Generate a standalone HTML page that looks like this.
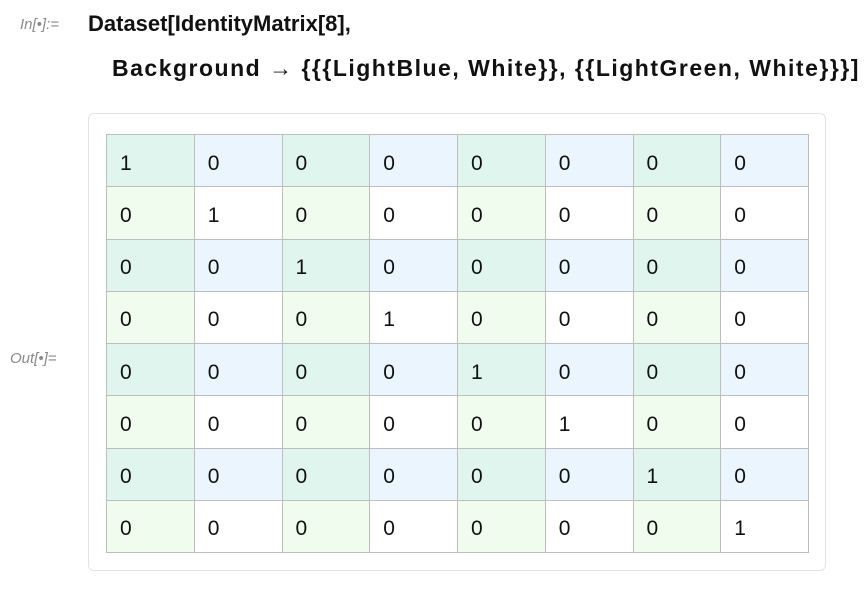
<!DOCTYPE html>
<html><head><meta charset="utf-8"><style>
body{margin:0;width:864px;height:608px;background:#fff;font-family:"Liberation Sans",sans-serif;position:relative;overflow:hidden}
.lbl{position:absolute;font-style:italic;color:#8a8a8a;font-size:15px}
.code{position:absolute;font-weight:bold;font-size:22px;color:#111;white-space:nowrap}
#card{position:absolute;left:88px;top:113px;width:738px;height:458px;border:1.5px solid #e3e3e3;border-radius:6px;box-sizing:border-box}
table{position:absolute;left:106px;top:134px;border-collapse:collapse}
td{width:87.75px;height:52.25px;box-sizing:border-box;border:1.5px solid #bdbdbd;padding:6px 0 0 13px;font-size:21px;color:#111}
</style></head><body>
<div class="lbl" style="left:20px;top:16px">In[•]:=</div>
<div class="code" style="left:88px;top:11px">Dataset[IdentityMatrix[8],</div>
<div class="code" style="left:112px;top:55px;font-size:23px;letter-spacing:1.5px">Background → {{{LightBlue, White}}, {{LightGreen, White}}}]</div>
<div class="lbl" style="left:10px;top:350px">Out[•]=</div>
<div id="card"></div>
<table id="t"></table>
<script>
const n=8;
const t=document.getElementById('t');
for(let r=0;r<n;r++){
  const tr=document.createElement('tr');
  
  
  for(let c=0;c<n;c++){
    const td=document.createElement('td');
    
    
    const blue=r%2===0, green=c%2===0;
    td.style.background=blue&&green?'#e0f5ee':blue?'#eaf5fd':green?'#f0fcee':'#ffffff';
    td.textContent=r===c?'1':'0';
    tr.appendChild(td);
  }
  t.appendChild(tr);
}
</script>
</body></html>
